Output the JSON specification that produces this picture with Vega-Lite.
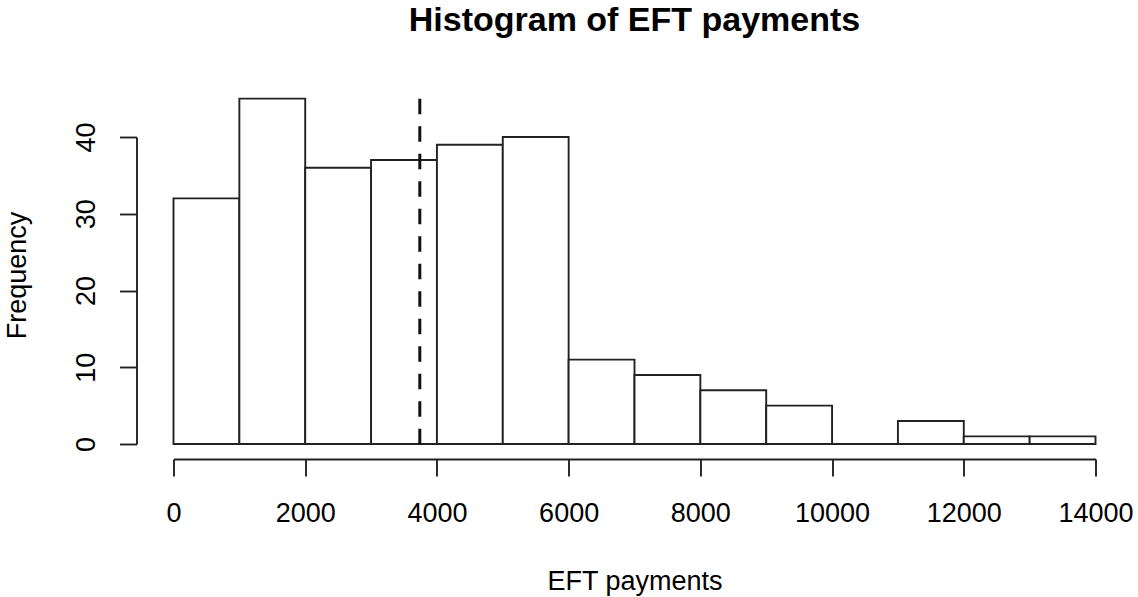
{
  "$schema": "https://vega.github.io/schema/vega-lite/v6.json",
  "autosize": {"type": "none"},
  "padding": {"left": 173.5, "top": 137, "right": 42.5, "bottom": 153},
  "width": 922,
  "height": 307,
  "background": "white",
  "title": {
    "text": "Histogram of EFT payments",
    "font": "Liberation Sans",
    "fontSize": 34,
    "fontWeight": "bold",
    "color": "black",
    "anchor": "middle",
    "frame": "group",
    "baseline": "alphabetic",
    "offset": 32
  },
  "config": {
    "view": {"stroke": null},
    "axis": {
      "grid": false,
      "domainColor": "#222",
      "domainWidth": 1.9,
      "tickColor": "#222",
      "tickWidth": 1.9,
      "tickSize": 17,
      "labelFont": "Liberation Sans",
      "labelFontSize": 27,
      "labelColor": "black",
      "titleFont": "Liberation Sans",
      "titleFontSize": 27,
      "titleFontWeight": "normal",
      "titleColor": "black"
    }
  },
  "layer": [
    {
      "data": {
        "values": [
          {"bin_start": 0, "bin_end": 1000, "count": 32},
          {"bin_start": 1000, "bin_end": 2000, "count": 45},
          {"bin_start": 2000, "bin_end": 3000, "count": 36},
          {"bin_start": 3000, "bin_end": 4000, "count": 37},
          {"bin_start": 4000, "bin_end": 5000, "count": 39},
          {"bin_start": 5000, "bin_end": 6000, "count": 40},
          {"bin_start": 6000, "bin_end": 7000, "count": 11},
          {"bin_start": 7000, "bin_end": 8000, "count": 9},
          {"bin_start": 8000, "bin_end": 9000, "count": 7},
          {"bin_start": 9000, "bin_end": 10000, "count": 5},
          {"bin_start": 10000, "bin_end": 11000, "count": 0},
          {"bin_start": 11000, "bin_end": 12000, "count": 3},
          {"bin_start": 12000, "bin_end": 13000, "count": 1},
          {"bin_start": 13000, "bin_end": 14000, "count": 1}
        ]
      },
      "mark": {"type": "rect", "fill": "white", "stroke": "#222", "strokeWidth": 1.9, "clip": false},
      "encoding": {
        "x": {
          "field": "bin_start",
          "type": "quantitative",
          "scale": {"domain": [0, 14000], "nice": false, "zero": false},
          "axis": {
            "title": "EFT payments",
            "values": [0, 2000, 4000, 6000, 8000, 10000, 12000, 14000],
            "format": "d",
            "offset": 15,
            "labelBaseline": "alphabetic",
            "labelPadding": 45.7,
            "labelFlush": false,
            "labelOverlap": false,
            "titleBaseline": "alphabetic",
            "titleY": 130
          }
        },
        "x2": {"field": "bin_end"},
        "y": {
          "field": "count",
          "type": "quantitative",
          "scale": {"domain": [0, 40], "nice": false},
          "axis": {
            "title": "Frequency",
            "values": [0, 10, 20, 30, 40],
            "offset": 37,
            "labelAngle": 270,
            "labelAlign": "center",
            "labelBaseline": "alphabetic",
            "labelPadding": 24.7,
            "labelFlush": false,
            "labelOverlap": false,
            "titleAngle": 270,
            "titleAlign": "center",
            "titleBaseline": "alphabetic",
            "titleX": -111,
            "titleY": 138
          }
        },
        "y2": {"datum": 0}
      }
    },
    {
      "data": {"values": [{"mean": 3740, "top": 45, "bottom": 0}]},
      "mark": {"type": "rule", "stroke": "#111", "strokeWidth": 3, "strokeDash": [15.5, 12.0], "clip": false},
      "encoding": {
        "x": {"field": "mean", "type": "quantitative"},
        "y": {"field": "top", "type": "quantitative"},
        "y2": {"field": "bottom"}
      }
    }
  ]
}
